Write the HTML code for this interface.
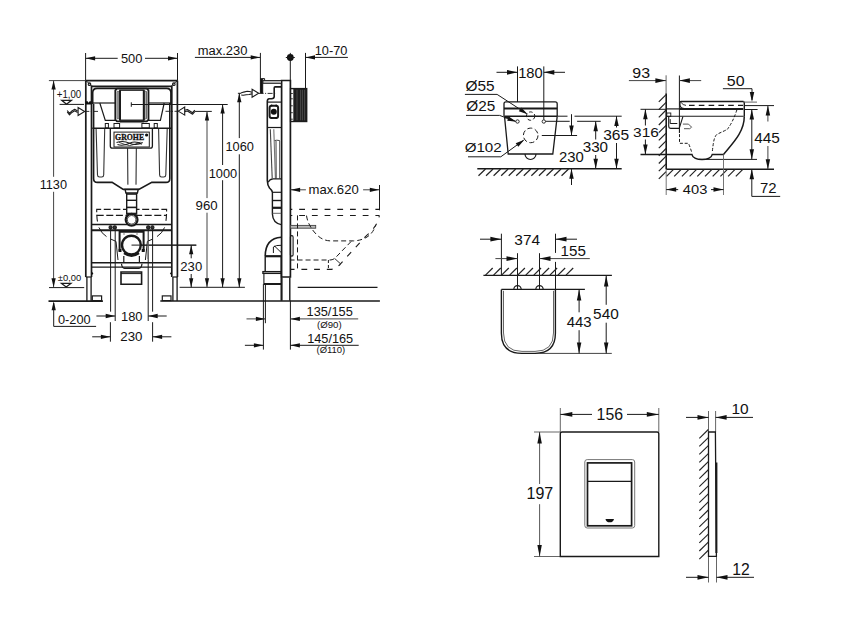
<!DOCTYPE html>
<html><head><meta charset="utf-8">
<style>
html,body{margin:0;padding:0;background:#fff;width:851px;height:630px;overflow:hidden}
svg{display:block}
text{font-family:"Liberation Sans",sans-serif}
</style></head><body>
<svg width="851" height="630" viewBox="0 0 851 630">
<line x1="560.3" y1="408" x2="560.3" y2="432" stroke="#555" stroke-width="0.9" />
<line x1="658.8" y1="408" x2="658.8" y2="432" stroke="#555" stroke-width="0.9" />
<line x1="560.3" y1="414.4" x2="592" y2="414.4" stroke="#1a1a1a" stroke-width="1" />
<line x1="627" y1="414.4" x2="658.8" y2="414.4" stroke="#1a1a1a" stroke-width="1" />
<path d="M560.3,414.4 L572.3,412.05 L572.3,416.75 Z" fill="#111"/>
<path d="M658.8,414.4 L646.8,412.05 L646.8,416.75 Z" fill="#111"/>
<text transform="translate(596.59,419.64) scale(0.983,1)" font-size="16.10" fill="#111" font-weight="normal">156</text>
<line x1="534" y1="432" x2="560" y2="432" stroke="#555" stroke-width="0.9" />
<line x1="534" y1="556.5" x2="560" y2="556.5" stroke="#555" stroke-width="0.9" />
<line x1="539.6" y1="432" x2="539.6" y2="484" stroke="#444" stroke-width="0.9" />
<line x1="539.6" y1="504.2" x2="539.6" y2="556.5" stroke="#444" stroke-width="0.9" />
<path d="M539.6,432 L537.36,443.5 L541.84,443.5 Z" fill="#111"/>
<path d="M539.6,556.5 L537.36,545 L541.84,545 Z" fill="#111"/>
<text transform="translate(526.48,499.45) scale(1.022,1)" font-size="15.68" fill="#111" font-weight="normal">197</text>
<path d="M560.3,556.5 V433.8 Q560.3,432 562.1,432 H657 Q658.8,432 658.8,433.8 V556.5 Z" stroke="#1a1a1a" stroke-width="1.4" fill="none" />
<path d="M584.8,525.5 V462 Q584.8,459.6 587.2,459.6 H632.3 Q634.7,459.6 634.7,462 V525.6 Q634.7,528 632.3,528 H587.2 Q584.8,528 584.8,525.5" stroke="#777" stroke-width="1" fill="none" />
<rect x="587.5" y="462.9" width="44.1" height="62.9" rx="0" stroke="#1a1a1a" stroke-width="1.7" fill="none"/>
<line x1="587.5" y1="481.4" x2="631.6" y2="481.4" stroke="#1a1a1a" stroke-width="1.4" />
<path d="M605.5,518.9 H614 Q613.3,522.3 609.7,522.3 Q606.2,522.3 605.5,518.9 Z" fill="#111"/>
<line x1="708.5" y1="411" x2="708.5" y2="432" stroke="#555" stroke-width="0.9" />
<line x1="715.6" y1="411" x2="715.6" y2="432" stroke="#555" stroke-width="0.9" />
<line x1="708.5" y1="556.5" x2="708.5" y2="582.5" stroke="#555" stroke-width="0.9" />
<line x1="716.5" y1="556.5" x2="716.5" y2="582.5" stroke="#555" stroke-width="0.9" />
<line x1="686" y1="417.4" x2="708.5" y2="417.4" stroke="#1a1a1a" stroke-width="1" />
<line x1="715.6" y1="417.4" x2="753" y2="417.4" stroke="#1a1a1a" stroke-width="1" />
<path d="M708.5,417.4 L697.5,415.05 L697.5,419.75 Z" fill="#111"/>
<path d="M715.6,417.4 L726.6,415.05 L726.6,419.75 Z" fill="#111"/>
<line x1="686" y1="577.3" x2="708.5" y2="577.3" stroke="#1a1a1a" stroke-width="1" />
<line x1="716.5" y1="577.3" x2="754" y2="577.3" stroke="#1a1a1a" stroke-width="1" />
<path d="M708.5,577.3 L697.5,574.95 L697.5,579.65 Z" fill="#111"/>
<path d="M716.5,577.3 L727.5,574.95 L727.5,579.65 Z" fill="#111"/>
<text transform="translate(731.42,414.25) scale(1.022,1)" font-size="15.11" fill="#111" font-weight="normal">10</text>
<text transform="translate(732.3,574.5) scale(0.980,1)" font-size="16.04" fill="#111" font-weight="normal">12</text>
<path d="M708.5,556.3 V432 H715.4 L716.4,556.3 Z" stroke="#1a1a1a" stroke-width="1.3" fill="none" />
<line x1="716.4" y1="462.5" x2="716.4" y2="553" stroke="#1a1a1a" stroke-width="2" />
<line x1="708.3" y1="429.5" x2="699.3" y2="438.3" stroke="#222" stroke-width="1.1" />
<line x1="708.3" y1="437.55" x2="699.3" y2="446.35" stroke="#222" stroke-width="1.1" />
<line x1="708.3" y1="445.6" x2="699.3" y2="454.4" stroke="#222" stroke-width="1.1" />
<line x1="708.3" y1="453.65" x2="699.3" y2="462.45" stroke="#222" stroke-width="1.1" />
<line x1="708.3" y1="461.7" x2="699.3" y2="470.5" stroke="#222" stroke-width="1.1" />
<line x1="708.3" y1="469.75" x2="699.3" y2="478.55" stroke="#222" stroke-width="1.1" />
<line x1="708.3" y1="477.8" x2="699.3" y2="486.6" stroke="#222" stroke-width="1.1" />
<line x1="708.3" y1="485.85" x2="699.3" y2="494.65" stroke="#222" stroke-width="1.1" />
<line x1="708.3" y1="493.9" x2="699.3" y2="502.7" stroke="#222" stroke-width="1.1" />
<line x1="708.3" y1="501.95" x2="699.3" y2="510.75" stroke="#222" stroke-width="1.1" />
<line x1="708.3" y1="510" x2="699.3" y2="518.8" stroke="#222" stroke-width="1.1" />
<line x1="708.3" y1="518.05" x2="699.3" y2="526.85" stroke="#222" stroke-width="1.1" />
<line x1="708.3" y1="526.1" x2="699.3" y2="534.9" stroke="#222" stroke-width="1.1" />
<line x1="708.3" y1="534.15" x2="699.3" y2="542.95" stroke="#222" stroke-width="1.1" />
<line x1="708.3" y1="542.2" x2="699.3" y2="551" stroke="#222" stroke-width="1.1" />
<line x1="708.3" y1="550.25" x2="699.3" y2="559.05" stroke="#222" stroke-width="1.1" />
<line x1="501.4" y1="233.7" x2="501.4" y2="275.4" stroke="#1a1a1a" stroke-width="1" />
<line x1="555.5" y1="233.7" x2="555.5" y2="252.9" stroke="#1a1a1a" stroke-width="1" />
<line x1="480" y1="239.2" x2="501.4" y2="239.2" stroke="#1a1a1a" stroke-width="1" />
<path d="M501.4,239.2 L490.4,236.85 L490.4,241.55 Z" fill="#111"/>
<line x1="555.5" y1="239.2" x2="577" y2="239.2" stroke="#1a1a1a" stroke-width="1" />
<path d="M555.5,239.2 L566.5,236.85 L566.5,241.55 Z" fill="#111"/>
<text transform="translate(514.31,244.66) scale(1.040,1)" font-size="14.83" fill="#111" font-weight="normal">374</text>
<line x1="517.5" y1="253.2" x2="517.5" y2="289.4" stroke="#1a1a1a" stroke-width="1" />
<line x1="539.5" y1="253.2" x2="539.5" y2="289.4" stroke="#1a1a1a" stroke-width="1" />
<line x1="495.4" y1="258.6" x2="517.5" y2="258.6" stroke="#444" stroke-width="1" />
<path d="M517.5,258.6 L506.5,256.25 L506.5,260.95 Z" fill="#111"/>
<line x1="539.5" y1="258.6" x2="589.8" y2="258.6" stroke="#444" stroke-width="1" />
<path d="M539.5,258.6 L550.5,256.25 L550.5,260.95 Z" fill="#111"/>
<text transform="translate(560.55,255.86) scale(1.037,1)" font-size="14.62" fill="#111" font-weight="normal">155</text>
<line x1="555.5" y1="261.9" x2="555.5" y2="289.4" stroke="#1a1a1a" stroke-width="1" />
<line x1="483.4" y1="275.4" x2="611.9" y2="275.4" stroke="#1a1a1a" stroke-width="1.4" />
<line x1="485.5" y1="275.2" x2="492.7" y2="268" stroke="#222" stroke-width="1.2" />
<line x1="493.55" y1="275.2" x2="500.75" y2="268" stroke="#222" stroke-width="1.2" />
<line x1="501.6" y1="275.2" x2="508.8" y2="268" stroke="#222" stroke-width="1.2" />
<line x1="509.65" y1="275.2" x2="516.85" y2="268" stroke="#222" stroke-width="1.2" />
<line x1="517.7" y1="275.2" x2="524.9" y2="268" stroke="#222" stroke-width="1.2" />
<line x1="525.75" y1="275.2" x2="532.95" y2="268" stroke="#222" stroke-width="1.2" />
<line x1="533.8" y1="275.2" x2="541" y2="268" stroke="#222" stroke-width="1.2" />
<line x1="541.85" y1="275.2" x2="549.05" y2="268" stroke="#222" stroke-width="1.2" />
<line x1="549.9" y1="275.2" x2="557.1" y2="268" stroke="#222" stroke-width="1.2" />
<line x1="557.95" y1="275.2" x2="565.15" y2="268" stroke="#222" stroke-width="1.2" />
<line x1="566" y1="275.2" x2="573.2" y2="268" stroke="#222" stroke-width="1.2" />
<line x1="501.4" y1="289.4" x2="584.9" y2="289.4" stroke="#1a1a1a" stroke-width="1.3" />
<path d="M517.5,289.4 m-3.7,0 a3.7,3.7 0 0 1 7.4,0" stroke="#1a1a1a" stroke-width="1.2" fill="none" />
<path d="M539.5,289.4 m-3.7,0 a3.7,3.7 0 0 1 7.4,0" stroke="#1a1a1a" stroke-width="1.2" fill="none" />
<path d="M501.4,289.4 V333.3 Q501.4,353.4 522,353.4 H535 Q555.4,353.4 555.4,333.3 V289.4" stroke="#1a1a1a" stroke-width="1.4" fill="none" />
<path d="M503.5,290.8 V333 Q503.5,351.4 522,351.4 H535 Q553.5,351.4 553.5,333 V290.8" stroke="#555" stroke-width="0.9" fill="none" />
<line x1="539.5" y1="353.4" x2="611.8" y2="353.4" stroke="#444" stroke-width="1" />
<line x1="579.1" y1="289.4" x2="579.1" y2="312.3" stroke="#1a1a1a" stroke-width="1" />
<line x1="579.1" y1="330.2" x2="579.1" y2="353.4" stroke="#1a1a1a" stroke-width="1" />
<path d="M579.1,289.4 L576.86,300.4 L581.34,300.4 Z" fill="#111"/>
<path d="M579.1,353.4 L576.86,342.4 L581.34,342.4 Z" fill="#111"/>
<text transform="translate(566.66,326.66) scale(1.036,1)" font-size="14.41" fill="#111" font-weight="normal">443</text>
<line x1="606.2" y1="275.4" x2="606.2" y2="304.8" stroke="#1a1a1a" stroke-width="1" />
<line x1="606.2" y1="322.7" x2="606.2" y2="353.4" stroke="#1a1a1a" stroke-width="1" />
<path d="M606.2,275.4 L603.96,286.4 L608.44,286.4 Z" fill="#111"/>
<path d="M606.2,353.4 L603.96,342.4 L608.44,342.4 Z" fill="#111"/>
<text transform="translate(593.08,319.46) scale(1.039,1)" font-size="14.83" fill="#111" font-weight="normal">540</text>
<line x1="517.5" y1="66.4" x2="517.5" y2="102" stroke="#1a1a1a" stroke-width="1" />
<line x1="543.8" y1="66.4" x2="543.8" y2="119.6" stroke="#1a1a1a" stroke-width="1" />
<line x1="496.5" y1="72.3" x2="517.5" y2="72.3" stroke="#1a1a1a" stroke-width="1" />
<path d="M517.5,72.3 L507,69.95 L507,74.65 Z" fill="#111"/>
<line x1="543.8" y1="72.3" x2="565" y2="72.3" stroke="#1a1a1a" stroke-width="1" />
<path d="M543.8,72.3 L554.3,69.95 L554.3,74.65 Z" fill="#111"/>
<text transform="translate(518.18,77.76) scale(0.994,1)" font-size="14.83" fill="#111" font-weight="normal">180</text>
<text transform="translate(465.57,90.53) scale(1.087,1)" font-size="14.16" fill="#111" font-weight="normal">Ø55</text>
<text transform="translate(466.27,110.94) scale(1.104,1)" font-size="13.89" fill="#111" font-weight="normal">Ø25</text>
<text transform="translate(464.67,152.35) scale(1.136,1)" font-size="13.35" fill="#111" font-weight="normal">Ø102</text>
<path d="M464.9,94.4 H497.1 L526.5,113.5" stroke="#1a1a1a" stroke-width="1" fill="none" />
<path d="M527.6,114.3 L518.84,111.26 L521.29,107.51 Z" fill="#111"/>
<path d="M466,115.4 H499.6 L515.5,121.3" stroke="#1a1a1a" stroke-width="1" fill="none" />
<path d="M516.4,121.7 L507.19,120.64 L508.76,116.44 Z" fill="#111"/>
<path d="M468,156.8 H500.8 L523.5,140.3" stroke="#1a1a1a" stroke-width="1" fill="none" />
<path d="M524.3,139.7 L518.34,146.81 L515.7,143.18 Z" fill="#111"/>
<path d="M504,116.3 V103.8 Q504,101.8 506,101.8 H555.2 Q557.2,101.8 557.2,103.8 V116.3" stroke="#1a1a1a" stroke-width="1.3" fill="none" />
<line x1="504" y1="108.5" x2="557.2" y2="108.5" stroke="#1a1a1a" stroke-width="2" />
<line x1="504.5" y1="116.3" x2="557.5" y2="116.3" stroke="#1a1a1a" stroke-width="1.6" />
<line x1="557.5" y1="116.2" x2="621.7" y2="116.2" stroke="#1a1a1a" stroke-width="1" />
<line x1="504.5" y1="117.6" x2="510" y2="117.6" stroke="#1a1a1a" stroke-width="1.6" />
<path d="M504.5,116.3 L508.2,154 H552.8 L557.2,116.3" stroke="#1a1a1a" stroke-width="1.3" fill="none" />
<path d="M525,154 A5.5,5.5 0 0 0 536,154" stroke="#1a1a1a" stroke-width="1.2" fill="none" />
<circle cx="517.5" cy="121.5" r="1.7" stroke="#1a1a1a" stroke-width="0.9" fill="none" />
<circle cx="543.8" cy="121.5" r="1.7" stroke="#1a1a1a" stroke-width="0.9" fill="none" />
<circle cx="530.6" cy="116.1" r="4.2" stroke="#1a1a1a" stroke-width="1" fill="none" stroke-dasharray="3.6,2.3"/>
<circle cx="530.7" cy="135.4" r="7.3" stroke="#1a1a1a" stroke-width="1" fill="none" stroke-dasharray="5,2.7"/>
<rect x="567.5" y="114" width="7" height="4" fill="#fff"/>
<line x1="545.6" y1="121.3" x2="569.7" y2="121.3" stroke="#1a1a1a" stroke-width="1" />
<line x1="577.1" y1="121.3" x2="600.7" y2="121.3" stroke="#1a1a1a" stroke-width="1" />
<line x1="541.8" y1="135.5" x2="577.1" y2="135.5" stroke="#1a1a1a" stroke-width="1" />
<line x1="571.5" y1="114.2" x2="571.5" y2="135.5" stroke="#1a1a1a" stroke-width="1" />
<path d="M571.5,135.5 L569.26,125.5 L573.74,125.5 Z" fill="#111"/>
<line x1="571.5" y1="168.8" x2="571.5" y2="185" stroke="#1a1a1a" stroke-width="1" />
<path d="M571.5,168.8 L569.26,178.8 L573.74,178.8 Z" fill="#111"/>
<text transform="translate(559.05,162.36) scale(1.064,1)" font-size="13.98" fill="#111" font-weight="normal">230</text>
<line x1="595.7" y1="121.3" x2="595.7" y2="139.5" stroke="#1a1a1a" stroke-width="1" />
<line x1="595.7" y1="155" x2="595.7" y2="168.8" stroke="#1a1a1a" stroke-width="1" />
<path d="M595.7,121.3 L593.46,131.3 L597.94,131.3 Z" fill="#111"/>
<path d="M595.7,168.8 L593.46,158.8 L597.94,158.8 Z" fill="#111"/>
<text transform="translate(582.72,152.46) scale(1.025,1)" font-size="14.83" fill="#111" font-weight="normal">330</text>
<line x1="616.5" y1="116.1" x2="616.5" y2="127.5" stroke="#1a1a1a" stroke-width="1" />
<line x1="616.5" y1="143" x2="616.5" y2="168.8" stroke="#1a1a1a" stroke-width="1" />
<path d="M616.5,116.1 L614.26,126.1 L618.74,126.1 Z" fill="#111"/>
<path d="M616.5,168.8 L614.26,158.8 L618.74,158.8 Z" fill="#111"/>
<text transform="translate(603.21,140.06) scale(1.112,1)" font-size="13.98" fill="#111" font-weight="normal">365</text>
<line x1="477.3" y1="168.8" x2="621.7" y2="168.8" stroke="#1a1a1a" stroke-width="1.4" />
<line x1="485.5" y1="169" x2="478.5" y2="175.8" stroke="#222" stroke-width="1.2" />
<line x1="493.05" y1="169" x2="486.05" y2="175.8" stroke="#222" stroke-width="1.2" />
<line x1="500.6" y1="169" x2="493.6" y2="175.8" stroke="#222" stroke-width="1.2" />
<line x1="508.15" y1="169" x2="501.15" y2="175.8" stroke="#222" stroke-width="1.2" />
<line x1="515.7" y1="169" x2="508.7" y2="175.8" stroke="#222" stroke-width="1.2" />
<line x1="523.25" y1="169" x2="516.25" y2="175.8" stroke="#222" stroke-width="1.2" />
<line x1="530.8" y1="169" x2="523.8" y2="175.8" stroke="#222" stroke-width="1.2" />
<line x1="538.35" y1="169" x2="531.35" y2="175.8" stroke="#222" stroke-width="1.2" />
<line x1="545.9" y1="169" x2="538.9" y2="175.8" stroke="#222" stroke-width="1.2" />
<line x1="553.45" y1="169" x2="546.45" y2="175.8" stroke="#222" stroke-width="1.2" />
<line x1="561" y1="169" x2="554" y2="175.8" stroke="#222" stroke-width="1.2" />
<line x1="568.55" y1="169" x2="561.55" y2="175.8" stroke="#222" stroke-width="1.2" />
<line x1="666.1" y1="75.3" x2="666.1" y2="94" stroke="#555" stroke-width="0.9" />
<line x1="679.4" y1="75.5" x2="679.4" y2="133" stroke="#1a1a1a" stroke-width="1" />
<line x1="628.9" y1="80.6" x2="666.1" y2="80.6" stroke="#444" stroke-width="1" />
<path d="M665.9,80.6 L655.4,78.25 L655.4,82.95 Z" fill="#111"/>
<line x1="679.4" y1="80.6" x2="701.2" y2="80.6" stroke="#444" stroke-width="1" />
<path d="M679.4,80.6 L689.9,78.25 L689.9,82.95 Z" fill="#111"/>
<text transform="translate(632.35,78.15) scale(1.066,1)" font-size="14.97" fill="#111" font-weight="normal">93</text>
<line x1="666.2" y1="93.5" x2="666.2" y2="169.3" stroke="#1a1a1a" stroke-width="1.6" />
<line x1="666.1" y1="94.6" x2="658.8" y2="101.9" stroke="#222" stroke-width="1.2" />
<line x1="666.1" y1="102.3" x2="658.8" y2="109.6" stroke="#222" stroke-width="1.2" />
<line x1="666.1" y1="110" x2="658.8" y2="117.3" stroke="#222" stroke-width="1.2" />
<line x1="666.1" y1="117.7" x2="658.8" y2="125" stroke="#222" stroke-width="1.2" />
<line x1="666.1" y1="125.4" x2="658.8" y2="132.7" stroke="#222" stroke-width="1.2" />
<line x1="666.1" y1="133.1" x2="658.8" y2="140.4" stroke="#222" stroke-width="1.2" />
<line x1="666.1" y1="140.8" x2="658.8" y2="148.1" stroke="#222" stroke-width="1.2" />
<line x1="666.1" y1="148.5" x2="658.8" y2="155.8" stroke="#222" stroke-width="1.2" />
<line x1="666.1" y1="156.2" x2="658.8" y2="163.5" stroke="#222" stroke-width="1.2" />
<line x1="666.1" y1="163.9" x2="658.8" y2="171.2" stroke="#222" stroke-width="1.2" />
<line x1="666.1" y1="171.6" x2="658.8" y2="178.9" stroke="#222" stroke-width="1.2" />
<line x1="666.2" y1="169.3" x2="774" y2="169.3" stroke="#1a1a1a" stroke-width="1.4" />
<line x1="673.5" y1="169.4" x2="666.5" y2="176.4" stroke="#222" stroke-width="1.2" />
<line x1="681.2" y1="169.4" x2="674.2" y2="176.4" stroke="#222" stroke-width="1.2" />
<line x1="688.9" y1="169.4" x2="681.9" y2="176.4" stroke="#222" stroke-width="1.2" />
<line x1="696.6" y1="169.4" x2="689.6" y2="176.4" stroke="#222" stroke-width="1.2" />
<line x1="704.3" y1="169.4" x2="697.3" y2="176.4" stroke="#222" stroke-width="1.2" />
<line x1="712" y1="169.4" x2="705" y2="176.4" stroke="#222" stroke-width="1.2" />
<line x1="719.7" y1="169.4" x2="712.7" y2="176.4" stroke="#222" stroke-width="1.2" />
<line x1="727.4" y1="169.4" x2="720.4" y2="176.4" stroke="#222" stroke-width="1.2" />
<line x1="735.1" y1="169.4" x2="728.1" y2="176.4" stroke="#222" stroke-width="1.2" />
<line x1="742.8" y1="169.4" x2="735.8" y2="176.4" stroke="#222" stroke-width="1.2" />
<path d="M743.3,101.5 H681 Q679.9,101.5 679.9,102.8 V105 Q680.3,108.5 684.5,108.7" stroke="#1a1a1a" stroke-width="1.3" fill="none" />
<path d="M680.8,102.2 Q683,105.3 686,105.4" stroke="#1a1a1a" stroke-width="0.9" fill="none" />
<line x1="689" y1="105.4" x2="743" y2="105.4" stroke="#1a1a1a" stroke-width="1.1" stroke-dasharray="5.6,4.2"/>
<line x1="666.2" y1="108.9" x2="679.5" y2="108.9" stroke="#1a1a1a" stroke-width="1.2" />
<line x1="679.5" y1="108.9" x2="743.3" y2="108.9" stroke="#1a1a1a" stroke-width="2" />
<path d="M743.3,101.5 Q744.3,101.8 744.3,103 V116.3" stroke="#1a1a1a" stroke-width="1.4" fill="none" />
<line x1="640.5" y1="109.3" x2="666.2" y2="109.3" stroke="#1a1a1a" stroke-width="1" />
<line x1="666.2" y1="116.3" x2="743.6" y2="116.3" stroke="#1a1a1a" stroke-width="1.1" />
<text transform="translate(726.86,86.06) scale(1.087,1)" font-size="14.69" fill="#111" font-weight="normal">50</text>
<path d="M722.9,88.7 H752 V100" stroke="#1a1a1a" stroke-width="1" fill="none" />
<path d="M752,102.1 L749.76,92.1 L754.24,92.1 Z" fill="#111"/>
<line x1="744.5" y1="102.1" x2="757" y2="102.1" stroke="#666" stroke-width="1" />
<line x1="744.5" y1="105.6" x2="774" y2="105.6" stroke="#1a1a1a" stroke-width="1" />
<line x1="744.5" y1="109.5" x2="757.6" y2="109.5" stroke="#1a1a1a" stroke-width="1" />
<line x1="751.8" y1="109.5" x2="751.8" y2="159.3" stroke="#1a1a1a" stroke-width="1" />
<path d="M751.8,109.5 L749.56,119.5 L754.04,119.5 Z" fill="#111"/>
<path d="M751.8,159.3 L749.56,149.3 L754.04,149.3 Z" fill="#111"/>
<line x1="767.9" y1="105.6" x2="767.9" y2="121.5" stroke="#444" stroke-width="1" />
<line x1="767.9" y1="146" x2="767.9" y2="169.2" stroke="#444" stroke-width="1" />
<path d="M767.9,105.6 L765.66,115.6 L770.14,115.6 Z" fill="#111"/>
<path d="M767.9,169.2 L765.66,159.2 L770.14,159.2 Z" fill="#111"/>
<rect x="753.5" y="131" width="27" height="13" fill="#fff"/>
<text transform="translate(754.15,142.65) scale(1.024,1)" font-size="15.05" fill="#111" font-weight="normal">445</text>
<line x1="645.4" y1="109.3" x2="645.4" y2="125.5" stroke="#1a1a1a" stroke-width="1" />
<line x1="645.4" y1="139.5" x2="645.4" y2="154.4" stroke="#1a1a1a" stroke-width="1" />
<path d="M645.4,109.3 L643.16,119.3 L647.64,119.3 Z" fill="#111"/>
<path d="M645.4,154.4 L643.16,144.4 L647.64,144.4 Z" fill="#111"/>
<text transform="translate(633.11,137.17) scale(1.139,1)" font-size="13.56" fill="#111" font-weight="normal">316</text>
<path d="M640.5,154.4 H691.9 C693,161.2 711,161.2 712.3,154.4 H723.5 C733,143 744.3,132 744.3,116.3" stroke="#1a1a1a" stroke-width="1.5" fill="none" />
<line x1="699" y1="159.4" x2="757" y2="159.4" stroke="#1a1a1a" stroke-width="1" />
<path d="M679.5,129.3 V143.3 H688.5 Q690.5,148 691.9,153" stroke="#1a1a1a" stroke-width="1" fill="none" stroke-dasharray="3,1.8"/>
<path d="M712.4,151 Q713.5,140 715,137.2 Q716,134.5 718,133.8 Q724,131 727.2,129.5 Q733,122 737,109.5" stroke="#1a1a1a" stroke-width="1" fill="none" stroke-dasharray="3,1.8"/>
<line x1="666.2" y1="169.3" x2="666.2" y2="195" stroke="#666" stroke-width="0.9" />
<line x1="723.5" y1="154.4" x2="723.5" y2="195" stroke="#666" stroke-width="0.9" />
<line x1="666.2" y1="189.6" x2="678.2" y2="189.6" stroke="#1a1a1a" stroke-width="1" />
<path d="M666.2,189.6 L676.2,187.36 L676.2,191.84 Z" fill="#111"/>
<line x1="711" y1="189.6" x2="723.5" y2="189.6" stroke="#1a1a1a" stroke-width="1" />
<path d="M723.5,189.6 L713.5,187.36 L713.5,191.84 Z" fill="#111"/>
<text transform="translate(682.86,194.17) scale(1.071,1)" font-size="13.70" fill="#111" font-weight="normal">403</text>
<path d="M751.8,169.2 V196.4 H780.2" stroke="#1a1a1a" stroke-width="1" fill="none" />
<path d="M751.8,169.2 L749.56,179.2 L754.04,179.2 Z" fill="#111"/>
<text transform="translate(759.93,193.3) scale(1.033,1)" font-size="14.46" fill="#111" font-weight="normal">72</text>
<rect x="666.8" y="113" width="4" height="3.4" rx="0" stroke="#1a1a1a" stroke-width="0.9" fill="none"/>
<path d="M668.7,116.6 V126 Q668.7,128.4 671,128.4 H679.2 L682.9,116.7" stroke="#1a1a1a" stroke-width="1.1" fill="none" />
<path d="M670.2,119.1 V123.5 H677.3" stroke="#1a1a1a" stroke-width="1" fill="none" />
<path d="M682.9,124.1 H688.5 L691.6,127.2 L689.7,128.7 H684" stroke="#444" stroke-width="0.9" fill="none" />
<line x1="85.6" y1="53" x2="85.6" y2="80.6" stroke="#1a1a1a" stroke-width="1" />
<line x1="177.5" y1="53" x2="177.5" y2="80.6" stroke="#1a1a1a" stroke-width="1" />
<line x1="85.6" y1="58.3" x2="117.7" y2="58.3" stroke="#1a1a1a" stroke-width="1" />
<line x1="145" y1="58.3" x2="177.5" y2="58.3" stroke="#1a1a1a" stroke-width="1" />
<path d="M85.6,58.3 L95.1,56.17 L95.1,60.43 Z" fill="#111"/>
<path d="M177.5,58.3 L168,56.17 L168,60.43 Z" fill="#111"/>
<text transform="translate(120.88,62.78) scale(1.015,1)" font-size="12.71" fill="#111" font-weight="normal">500</text>
<line x1="48.9" y1="80.6" x2="85.6" y2="80.6" stroke="#444" stroke-width="1" />
<line x1="53.6" y1="80.6" x2="53.6" y2="176.8" stroke="#444" stroke-width="1" />
<line x1="53.6" y1="191.8" x2="53.6" y2="287.3" stroke="#444" stroke-width="1" />
<path d="M53.6,80.6 L51.47,89.6 L55.73,89.6 Z" fill="#111"/>
<path d="M53.6,287.3 L51.47,278.3 L55.73,278.3 Z" fill="#111"/>
<text transform="translate(39.63,188.77) scale(0.971,1)" font-size="13.14" fill="#111" font-weight="normal">1130</text>
<text transform="translate(56.73,98) scale(0.970,1)" font-size="10.00" fill="#111">+1,00</text>
<path d="M61.8,100.3 H71.4 L66.5,104.2 Z" stroke="#1a1a1a" stroke-width="1.3" fill="none" />
<line x1="59.6" y1="104.4" x2="84" y2="104.4" stroke="#1a1a1a" stroke-width="1" />
<text transform="translate(57.8,280.8) scale(0.997,1)" font-size="9.43" fill="#111">±0,00</text>
<path d="M61.5,283.4 H70.9 L66.2,287 Z" stroke="#1a1a1a" stroke-width="1.3" fill="none" />
<line x1="49" y1="287.6" x2="84.2" y2="287.6" stroke="#1a1a1a" stroke-width="1" />
<line x1="48.5" y1="301.1" x2="102.9" y2="301.1" stroke="#1a1a1a" stroke-width="1.6" />
<path d="M53.7,303 V326.4 H96.1" stroke="#1a1a1a" stroke-width="1" fill="none" />
<path d="M53.7,301.2 L51.57,310.2 L55.83,310.2 Z" fill="#111"/>
<text transform="translate(58,324.08) scale(1.017,1)" font-size="12.57" fill="#111" font-weight="normal">0-200</text>
<line x1="110.6" y1="226" x2="110.6" y2="311.7" stroke="#1a1a1a" stroke-width="1" />
<line x1="110.4" y1="322.2" x2="110.4" y2="341.7" stroke="#1a1a1a" stroke-width="1" />
<line x1="115.2" y1="226" x2="115.2" y2="321" stroke="#1a1a1a" stroke-width="1" />
<line x1="148.2" y1="226" x2="148.2" y2="321" stroke="#1a1a1a" stroke-width="1" />
<line x1="152.6" y1="226" x2="152.6" y2="311.7" stroke="#1a1a1a" stroke-width="1" />
<line x1="152.6" y1="322.2" x2="152.6" y2="341.7" stroke="#1a1a1a" stroke-width="1" />
<line x1="96.4" y1="316" x2="115.2" y2="316" stroke="#1a1a1a" stroke-width="1" />
<path d="M115.2,316 L105.7,313.87 L105.7,318.13 Z" fill="#111"/>
<line x1="148.2" y1="316" x2="166.7" y2="316" stroke="#1a1a1a" stroke-width="1" />
<path d="M148.2,316 L157.7,313.87 L157.7,318.13 Z" fill="#111"/>
<text transform="translate(121.02,320.88) scale(1.024,1)" font-size="12.57" fill="#111" font-weight="normal">180</text>
<line x1="92.2" y1="336.8" x2="110.4" y2="336.8" stroke="#1a1a1a" stroke-width="1" />
<path d="M110.4,336.8 L100.9,334.67 L100.9,338.93 Z" fill="#111"/>
<line x1="152.6" y1="336.8" x2="171.4" y2="336.8" stroke="#1a1a1a" stroke-width="1" />
<path d="M152.6,336.8 L162.1,334.67 L162.1,338.93 Z" fill="#111"/>
<text transform="translate(120.33,341.18) scale(1.095,1)" font-size="12.15" fill="#111" font-weight="normal">230</text>
<line x1="131.7" y1="245.2" x2="196.3" y2="245.2" stroke="#1a1a1a" stroke-width="1" />
<line x1="191.2" y1="245.2" x2="191.2" y2="258.3" stroke="#1a1a1a" stroke-width="1" />
<line x1="191.2" y1="274" x2="191.2" y2="287.3" stroke="#1a1a1a" stroke-width="1" />
<path d="M191.2,245.2 L189.07,254.2 L193.33,254.2 Z" fill="#111"/>
<path d="M191.2,287.3 L189.07,278.3 L193.33,278.3 Z" fill="#111"/>
<text transform="translate(180.34,271.17) scale(1.009,1)" font-size="12.99" fill="#111" font-weight="normal">230</text>
<line x1="179.6" y1="287.3" x2="244.9" y2="287.3" stroke="#1a1a1a" stroke-width="1" />
<line x1="194.7" y1="111.4" x2="211.8" y2="111.4" stroke="#1a1a1a" stroke-width="1" />
<line x1="165.5" y1="111.3" x2="178" y2="111.3" stroke="#1a1a1a" stroke-width="0.9" stroke-dasharray="5,1.5,1,1.5"/>
<line x1="207" y1="111.4" x2="207" y2="198.1" stroke="#444" stroke-width="1" />
<line x1="207" y1="212.7" x2="207" y2="287.3" stroke="#444" stroke-width="1" />
<path d="M207,111.4 L204.87,120.4 L209.13,120.4 Z" fill="#111"/>
<path d="M207,287.3 L204.87,278.3 L209.13,278.3 Z" fill="#111"/>
<text transform="translate(195.58,210.37) scale(1.021,1)" font-size="12.99" fill="#111" font-weight="normal">960</text>
<line x1="131.3" y1="104.5" x2="227.7" y2="104.5" stroke="#1a1a1a" stroke-width="1" />
<line x1="222.6" y1="104.5" x2="222.6" y2="165" stroke="#1a1a1a" stroke-width="1" />
<line x1="222.6" y1="180.2" x2="222.6" y2="287.3" stroke="#1a1a1a" stroke-width="1" />
<path d="M222.6,104.5 L220.47,113.5 L224.73,113.5 Z" fill="#111"/>
<path d="M222.6,287.3 L220.47,278.3 L224.73,278.3 Z" fill="#111"/>
<text transform="translate(208.72,177.88) scale(1.054,1)" font-size="12.15" fill="#111" font-weight="normal">1000</text>
<line x1="239.3" y1="93.3" x2="239.3" y2="138.1" stroke="#1a1a1a" stroke-width="1" />
<line x1="239.3" y1="154.3" x2="239.3" y2="287.3" stroke="#1a1a1a" stroke-width="1" />
<path d="M239.3,93.3 L237.17,102.3 L241.43,102.3 Z" fill="#111"/>
<path d="M239.3,287.3 L237.17,278.3 L241.43,278.3 Z" fill="#111"/>
<text transform="translate(225.43,150.87) scale(0.996,1)" font-size="12.85" fill="#111" font-weight="normal">1060</text>
<line x1="160.3" y1="301" x2="379.9" y2="301" stroke="#1a1a1a" stroke-width="1.6" />
<line x1="85.7" y1="80.6" x2="177.5" y2="80.6" stroke="#1a1a1a" stroke-width="1.8" />
<line x1="85.8" y1="80.6" x2="85.8" y2="277" stroke="#1a1a1a" stroke-width="1.7" />
<line x1="91.5" y1="85.5" x2="91.5" y2="277" stroke="#1a1a1a" stroke-width="1.7" />
<line x1="177.4" y1="80.6" x2="177.4" y2="277" stroke="#1a1a1a" stroke-width="1.7" />
<line x1="171.8" y1="85.5" x2="171.8" y2="277" stroke="#1a1a1a" stroke-width="1.7" />
<line x1="91.5" y1="86.3" x2="171.8" y2="86.3" stroke="#1a1a1a" stroke-width="1.7" />
<line x1="85.8" y1="80.6" x2="91.5" y2="85.5" stroke="#1a1a1a" stroke-width="0.9" />
<line x1="177.4" y1="80.6" x2="171.8" y2="85.5" stroke="#1a1a1a" stroke-width="0.9" />
<circle cx="89.5" cy="84.2" r="1.3" stroke="#1a1a1a" stroke-width="1.1" fill="none" />
<circle cx="173.8" cy="84.2" r="1.3" stroke="#1a1a1a" stroke-width="1.1" fill="none" />
<path d="M86.9,277 V301 M91.1,277 V301" stroke="#1a1a1a" stroke-width="1.3" fill="none" />
<line x1="85.8" y1="277" x2="91.5" y2="277" stroke="#1a1a1a" stroke-width="1.2" />
<line x1="172.8" y1="277" x2="177.4" y2="277" stroke="#1a1a1a" stroke-width="1.2" />
<path d="M172.9,277 V301 M177.1,277 V301" stroke="#1a1a1a" stroke-width="1.3" fill="none" />
<rect x="92.3" y="295.9" width="9.3" height="4.7" rx="0" stroke="#1a1a1a" stroke-width="1.2" fill="none"/>
<rect x="162.3" y="295.9" width="8.7" height="4.7" rx="0" stroke="#1a1a1a" stroke-width="1.2" fill="none"/>
<path d="M91.5,271.3 L93.4,273.4 L91.5,275.6 Z" fill="#111"/>
<path d="M171.8,271.3 L169.9,273.4 L171.8,275.6 Z" fill="#111"/>
<line x1="91.5" y1="224.5" x2="171.8" y2="224.5" stroke="#1a1a1a" stroke-width="1.6" />
<line x1="91.5" y1="230.3" x2="171.8" y2="230.3" stroke="#1a1a1a" stroke-width="1.9" />
<line x1="91.5" y1="262.7" x2="171.8" y2="262.7" stroke="#1a1a1a" stroke-width="1.5" />
<line x1="91.5" y1="267.2" x2="171.8" y2="267.2" stroke="#1a1a1a" stroke-width="1.3" />
<circle cx="110.6" cy="227.4" r="1.6" stroke="#1a1a1a" stroke-width="1.1" fill="#333" />
<circle cx="114.8" cy="227.4" r="1.6" stroke="#1a1a1a" stroke-width="1.1" fill="#333" />
<circle cx="148.2" cy="227.4" r="1.6" stroke="#1a1a1a" stroke-width="1.1" fill="#333" />
<circle cx="152.4" cy="227.4" r="1.6" stroke="#1a1a1a" stroke-width="1.1" fill="#333" />
<path d="M92.7,104 V92.8 Q92.7,88.4 97.1,88.4 H166.6 Q170.9,88.4 170.9,92.7 V104" stroke="#1a1a1a" stroke-width="1.6" fill="none" />
<path d="M86,101.2 L87.6,101.2 L88.6,102.8 L89.6,101.2 L91.2,101.2 V104.6 H86 Z" fill="#111"/>
<line x1="92.3" y1="103" x2="115.3" y2="103" stroke="#1a1a1a" stroke-width="1.2" />
<line x1="148.5" y1="103" x2="171.4" y2="103" stroke="#1a1a1a" stroke-width="1.2" />
<path d="M99.8,103 L105.3,120.4 H160.4 L164.2,103" stroke="#1a1a1a" stroke-width="1.2" fill="none" />
<path d="M117,88.7 H146.8 L148.5,90.4 V119.6 L146.8,121.3 H117 L115.3,119.6 V90.4 Z" stroke="#1a1a1a" stroke-width="1.8" fill="#fff" />
<rect x="120" y="90.2" width="23.8" height="30" rx="0" stroke="#1a1a1a" stroke-width="1.3" fill="none"/>
<line x1="120" y1="90.2" x2="120" y2="120.2" stroke="#1a1a1a" stroke-width="2" />
<line x1="143.8" y1="90.2" x2="143.8" y2="120.2" stroke="#1a1a1a" stroke-width="2" />
<rect x="117.2" y="91.2" width="1.6" height="27.8" rx="0.8" stroke="#333" stroke-width="0.8" fill="none"/>
<rect x="145" y="91.2" width="1.6" height="27.8" rx="0.8" stroke="#333" stroke-width="0.8" fill="none"/>
<line x1="131.3" y1="102.3" x2="131.3" y2="106.8" stroke="#1a1a1a" stroke-width="1" />
<line x1="131.3" y1="104.5" x2="149.5" y2="104.5" stroke="#1a1a1a" stroke-width="1" />
<line x1="120" y1="122.6" x2="143.8" y2="122.6" stroke="#666" stroke-width="0.8" />
<path d="M84.6,111.5 L78.1,107.5 L78.1,115.5 Z" stroke="#1a1a1a" stroke-width="1.1" fill="none" />
<path d="M77.6,110.9 L74.7,109.3 L71.9,110.9 L69.5,113.4 L67.2,110.5" stroke="#1a1a1a" stroke-width="1.1" fill="none" stroke-linejoin="round"/>
<path d="M77.6,112.4 L74.7,110.8 L71.9,112.4 L69.5,114.9 L67.2,112" stroke="#1a1a1a" stroke-width="1.1" fill="none" stroke-linejoin="round"/>
<path d="M178.2,111.1 L184.7,107.1 L184.7,115.1 Z" stroke="#1a1a1a" stroke-width="1.1" fill="none" />
<path d="M184.7,110.3 L187.4,109.5 L192.6,112.7 L194.8,110.2" stroke="#1a1a1a" stroke-width="1.1" fill="none" stroke-linejoin="round"/>
<path d="M184.7,111.8 L187.4,111 L192.6,114.2 L194.8,111.7" stroke="#1a1a1a" stroke-width="1.1" fill="none" stroke-linejoin="round"/>
<line x1="84.3" y1="111.4" x2="98" y2="111.4" stroke="#1a1a1a" stroke-width="0.9" stroke-dasharray="5,1.5,1,1.5"/>
<rect x="105.3" y="123.5" width="3.1" height="4.4" rx="0" stroke="#1a1a1a" stroke-width="1" fill="none"/>
<rect x="114" y="123.5" width="5.6" height="4.4" rx="0" stroke="#1a1a1a" stroke-width="1" fill="none"/>
<rect x="141.9" y="123.5" width="7.4" height="4.4" rx="0" stroke="#1a1a1a" stroke-width="1" fill="none"/>
<rect x="154.2" y="123.5" width="3.1" height="4.4" rx="0" stroke="#1a1a1a" stroke-width="1" fill="none"/>
<line x1="92.3" y1="128.2" x2="171.4" y2="128.2" stroke="#1a1a1a" stroke-width="1.6" />
<path d="M93.6,104 V178.4 Q93.6,182.4 97.5,182.4 H112.1 L123.3,189.4 H138.8 L151.8,182.4 H166 Q169.8,182.4 169.8,178.4 V103" stroke="#1a1a1a" stroke-width="1.6" fill="none" />
<path d="M125.1,189.5 H138.2 L137.4,193.1 H125.9 Z" stroke="#1a1a1a" stroke-width="1.4" fill="#fff" />
<path d="M96.1,129 L97.5,175 Q97.6,177 99.5,177 H101.8 Q103.6,177 103.7,175 L104.7,129" stroke="#333" stroke-width="1.1" fill="none" />
<path d="M167.2,129 L165.8,175 Q165.7,177 163.8,177 H161.5 Q159.7,177 159.6,175 L158.6,129" stroke="#333" stroke-width="1.1" fill="none" />
<line x1="127.6" y1="148.2" x2="127.9" y2="184.7" stroke="#1a1a1a" stroke-width="1" />
<line x1="136.3" y1="148.2" x2="136" y2="184.7" stroke="#1a1a1a" stroke-width="1" />
<path d="M110.3,128.2 V146 Q110.3,148.2 112.5,148.2 H150.2 Q152.4,148.2 152.4,146 V128.2" stroke="#1a1a1a" stroke-width="1.3" fill="none" />
<rect x="114" y="132.1" width="35.3" height="14.9" rx="0" stroke="#1a1a1a" stroke-width="1" fill="none"/>
<text x="115.1" y="139.6" style="font-family:'Liberation Serif',serif;font-weight:bold" font-size="7.6" textLength="29" lengthAdjust="spacingAndGlyphs" fill="#111" stroke="#111" stroke-width="0.3">GROHE</text>
<circle cx="146.6" cy="135" r="1.6" stroke="#1a1a1a" stroke-width="0" fill="#111" />
<path d="M116.5,142.6 Q123,140.2 129.6,143.2 Q136,146 142.7,142.6" stroke="#1a1a1a" stroke-width="1.1" fill="none" />
<path d="M117.5,144.6 Q123,146.4 129.6,143.2 Q136,140.4 141.7,144.4" stroke="#1a1a1a" stroke-width="1.1" fill="none" />
<path d="M119,142.4 Q125,144.8 129.6,145.6 Q134,144.8 140.5,142.2" stroke="#1a1a1a" stroke-width="0.8" fill="none" />
<path d="M97.5,221.5 Q96.7,218 96.7,209.4 H166.6 Q166.6,218 165.8,221.5" stroke="#1a1a1a" stroke-width="1.1" fill="none" stroke-dasharray="7,2.6"/>
<line x1="96.7" y1="215.4" x2="166.6" y2="215.4" stroke="#1a1a1a" stroke-width="1.1" stroke-dasharray="7,2.6"/>
<rect x="126.7" y="193.2" width="9.9" height="20.8" rx="0" stroke="#1a1a1a" stroke-width="1.4" fill="#fff"/>
<line x1="126.7" y1="194.3" x2="136.6" y2="194.3" stroke="#1a1a1a" stroke-width="1" />
<line x1="126.7" y1="200.3" x2="136.6" y2="200.3" stroke="#1a1a1a" stroke-width="1.4" />
<line x1="126.7" y1="207.4" x2="136.6" y2="207.4" stroke="#1a1a1a" stroke-width="1.6" />
<line x1="126.7" y1="213.3" x2="136.6" y2="213.3" stroke="#1a1a1a" stroke-width="1.2" />
<circle cx="131.6" cy="219.8" r="5.9" stroke="#1a1a1a" stroke-width="2.2" fill="#fff" />
<circle cx="131.6" cy="219.8" r="4.3" stroke="#444" stroke-width="1" fill="none" />
<path d="M98.9,227.4 Q101.5,233.5 106.5,236.6" stroke="#1a1a1a" stroke-width="1" fill="none" />
<path d="M164.6,227.4 Q162,233.5 157,236.6" stroke="#1a1a1a" stroke-width="1" fill="none" />
<path d="M119.6,251.5 V231.7 H143.6 V251.5" stroke="#1a1a1a" stroke-width="2" fill="none" />
<path d="M118.6,249 H121.5 V252 H118.6 Z" fill="#111"/>
<path d="M141.7,249 H144.6 V252 H141.7 Z" fill="#111"/>
<line x1="124" y1="232.5" x2="124" y2="235" stroke="#666" stroke-width="0.8" />
<line x1="137" y1="232.5" x2="137" y2="235" stroke="#666" stroke-width="0.8" />
<circle cx="131.4" cy="245.1" r="9.4" stroke="#1a1a1a" stroke-width="2.4" fill="#fff" />
<line x1="131.5" y1="245.1" x2="196.3" y2="245.1" stroke="#1a1a1a" stroke-width="1" />
<path d="M124,253.2 Q131.5,258.6 139,253.2" stroke="#1a1a1a" stroke-width="2.2" fill="none" />
<path d="M123.8,256 V262.6 M139.4,256 V262.6" stroke="#1a1a1a" stroke-width="1.2" fill="none" />
<path d="M111,239.2 L116,241.4 L118,260 M152.4,239.2 L147.4,241.4 L145.4,260" stroke="#1a1a1a" stroke-width="1" fill="none" />
<line x1="148.2" y1="241" x2="147.5" y2="259" stroke="#888" stroke-width="0.8" />
<path d="M121.5,263.7 Q122,268.3 124.5,268.3 H139 Q141.5,268.3 142,263.7" stroke="#1a1a1a" stroke-width="1.2" fill="none" />
<path d="M121,272 V284.3 H141.6 V272 Z" stroke="#1a1a1a" stroke-width="1.6" fill="none" />
<line x1="121" y1="273.6" x2="141.6" y2="273.6" stroke="#1a1a1a" stroke-width="1" />
<line x1="194.9" y1="57.4" x2="260.2" y2="57.4" stroke="#1a1a1a" stroke-width="1" />
<path d="M260.2,57.4 L250.7,55.27 L250.7,59.53 Z" fill="#111"/>
<text transform="translate(197.74,55.18) scale(1.019,1)" font-size="12.71" fill="#111" font-weight="normal">max.230</text>
<line x1="260.4" y1="52.9" x2="260.4" y2="92.9" stroke="#1a1a1a" stroke-width="1" />
<circle cx="290.3" cy="57.5" r="3.4" stroke="#1a1a1a" stroke-width="0" fill="#111" />
<line x1="290.3" y1="52.9" x2="290.3" y2="80.5" stroke="#1a1a1a" stroke-width="1" />
<line x1="285.8" y1="57.5" x2="294.8" y2="57.5" stroke="#1a1a1a" stroke-width="1" />
<line x1="305.5" y1="52.9" x2="305.5" y2="88.6" stroke="#1a1a1a" stroke-width="1" />
<line x1="305.5" y1="57.4" x2="347.9" y2="57.4" stroke="#1a1a1a" stroke-width="1" />
<path d="M305.5,57.4 L315,55.27 L315,59.53 Z" fill="#111"/>
<text transform="translate(314.73,54.68) scale(1.016,1)" font-size="12.57" fill="#111" font-weight="normal">10-70</text>
<path d="M281.6,277 V80.5 H290.4 V277 Z" stroke="#1a1a1a" stroke-width="1.7" fill="none" />
<path d="M281.9,277.5 V300.7 M289.8,277.5 V300.7" stroke="#1a1a1a" stroke-width="1.4" fill="none" />
<rect x="290.6" y="88.6" width="16.1" height="32.9" rx="0" stroke="#1a1a1a" stroke-width="1.4" fill="#fff"/>
<rect x="293.3" y="88.6" width="13.4" height="32.9" fill="#1e1e1e"/>
<line x1="297" y1="89.8" x2="297" y2="120.3" stroke="#666" stroke-width="0.6" />
<line x1="300.6" y1="89.8" x2="300.6" y2="120.3" stroke="#666" stroke-width="0.6" />
<line x1="302.4" y1="89.8" x2="302.4" y2="120.3" stroke="#666" stroke-width="0.6" />
<line x1="304.6" y1="89.8" x2="304.6" y2="120.3" stroke="#666" stroke-width="0.6" />
<line x1="291" y1="93.5" x2="292.8" y2="93.5" stroke="#333" stroke-width="1" />
<line x1="291" y1="98.8" x2="292.8" y2="98.8" stroke="#333" stroke-width="1" />
<line x1="291" y1="105.8" x2="292.8" y2="105.8" stroke="#333" stroke-width="1" />
<line x1="291" y1="112.7" x2="292.8" y2="112.7" stroke="#333" stroke-width="1" />
<line x1="291" y1="119.2" x2="292.8" y2="119.2" stroke="#333" stroke-width="1" />
<rect x="260.7" y="78.4" width="2.2" height="14.7" rx="0" stroke="#1a1a1a" stroke-width="0.6" fill="#111"/>
<path d="M262.9,78.6 H264.6 V80.4" stroke="#1a1a1a" stroke-width="1" fill="none" />
<rect x="262.9" y="80.6" width="18.6" height="2.7" rx="0" stroke="#1a1a1a" stroke-width="1" fill="#ccc"/>
<path d="M258.6,93.3 L252.1,89.3 L252.1,97.3 Z" stroke="#1a1a1a" stroke-width="1.1" fill="none" />
<path d="M251.9,92.3 L249.6,91.5 L247.2,91.3 L243.7,92.1 L240.9,93" stroke="#1a1a1a" stroke-width="1.1" fill="none" stroke-linejoin="round"/>
<path d="M251.9,93.9 L249.1,94.5 L246.2,94.8 L243.2,95.3 L241.2,95" stroke="#1a1a1a" stroke-width="1.1" fill="none" stroke-linejoin="round"/>
<line x1="237.9" y1="93.3" x2="241" y2="93.3" stroke="#1a1a1a" stroke-width="1" />
<line x1="258.6" y1="93.4" x2="275.3" y2="93.4" stroke="#1a1a1a" stroke-width="0.9" stroke-dasharray="5,1.5,1,1.5"/>
<path d="M281.6,86.9 H275.2 Q274.2,86.9 274.2,88 V96.6 Q274.2,98.7 271.5,98.8 H269.2 Q267.3,99 267.3,101.6 V180.5 Q267.5,185.5 269.5,188 Q271.6,189.8 272.4,192" stroke="#1a1a1a" stroke-width="1.6" fill="none" />
<line x1="267.3" y1="102.1" x2="281.6" y2="102.1" stroke="#1a1a1a" stroke-width="1.2" />
<line x1="267.3" y1="127.5" x2="281.6" y2="127.5" stroke="#1a1a1a" stroke-width="1.2" />
<rect x="269.6" y="105.8" width="8.5" height="12.1" rx="2" stroke="#1a1a1a" stroke-width="2" fill="none"/>
<circle cx="273.8" cy="111.8" r="3" stroke="#1a1a1a" stroke-width="0" fill="#111" />
<circle cx="271.5" cy="105.6" r="1" stroke="#1a1a1a" stroke-width="0" fill="#111" />
<circle cx="276.2" cy="105.6" r="1" stroke="#1a1a1a" stroke-width="0" fill="#111" />
<circle cx="271.5" cy="118.1" r="1" stroke="#1a1a1a" stroke-width="0" fill="#111" />
<circle cx="276.2" cy="118.1" r="1" stroke="#1a1a1a" stroke-width="0" fill="#111" />
<line x1="270.3" y1="129.3" x2="272.2" y2="178" stroke="#444" stroke-width="1.1" />
<line x1="273.8" y1="129.3" x2="275.4" y2="178.8" stroke="#777" stroke-width="1.1" />
<path d="M274.5,140.6 Q276.5,139.8 279.8,140.6" stroke="#444" stroke-width="1" fill="none" />
<line x1="276" y1="141" x2="276.2" y2="178.5" stroke="#444" stroke-width="1" />
<line x1="279.6" y1="141" x2="279.6" y2="178.5" stroke="#666" stroke-width="1.1" />
<path d="M268.2,182.3 Q269.5,179.2 273,178.9 H281.4" stroke="#1a1a1a" stroke-width="1.1" fill="none" />
<path d="M272.4,192 V214 Q272.8,223 281.2,224.6" stroke="#1a1a1a" stroke-width="1.4" fill="none" />
<line x1="272.4" y1="192.3" x2="281.2" y2="192.3" stroke="#1a1a1a" stroke-width="1.2" />
<line x1="272.4" y1="200.5" x2="281.2" y2="200.5" stroke="#1a1a1a" stroke-width="1.4" />
<line x1="272.4" y1="207.8" x2="281.2" y2="207.8" stroke="#1a1a1a" stroke-width="2.2" />
<line x1="272.4" y1="213.3" x2="281.2" y2="213.3" stroke="#555" stroke-width="0.9" />
<rect x="290.4" y="225.4" width="25.3" height="2.8" rx="0" stroke="#444" stroke-width="0.9" fill="#bbb"/>
<rect x="290.4" y="235.6" width="2.7" height="20.5" rx="1.3" stroke="#1a1a1a" stroke-width="1.1" fill="none"/>
<path d="M265.2,256 Q265.5,238 281.2,237.2" stroke="#1a1a1a" stroke-width="1.6" fill="none" />
<path d="M273.4,253 V247 Q276,245 281.2,245.3 M274.5,246 L281.2,252.5" stroke="#1a1a1a" stroke-width="1" fill="none" />
<line x1="265" y1="256.2" x2="281.2" y2="256.2" stroke="#1a1a1a" stroke-width="2.2" />
<path d="M265.2,256 V271.6 M281.2,256 V300.7" stroke="#1a1a1a" stroke-width="1.4" fill="none" />
<rect x="262.9" y="271.6" width="18.3" height="1.8" rx="0" stroke="#1a1a1a" stroke-width="1.3" fill="none"/>
<line x1="263.9" y1="284" x2="281.2" y2="284" stroke="#1a1a1a" stroke-width="2" />
<path d="M263.9,273.4 V284" stroke="#1a1a1a" stroke-width="1.1" fill="none" />
<line x1="263.4" y1="284" x2="263.4" y2="349.6" stroke="#1a1a1a" stroke-width="1" />
<line x1="265.4" y1="284" x2="265.4" y2="323.2" stroke="#1a1a1a" stroke-width="1" />
<line x1="290.4" y1="300.7" x2="290.4" y2="349.6" stroke="#1a1a1a" stroke-width="1" />
<line x1="246.5" y1="318.9" x2="265.4" y2="318.9" stroke="#444" stroke-width="1" />
<path d="M265.4,318.9 L255.9,316.77 L255.9,321.03 Z" fill="#111"/>
<line x1="290.4" y1="318.9" x2="358.2" y2="318.9" stroke="#444" stroke-width="1" />
<path d="M290.4,318.9 L299.9,316.77 L299.9,321.03 Z" fill="#111"/>
<line x1="244.9" y1="345.3" x2="263.4" y2="345.3" stroke="#1a1a1a" stroke-width="1" />
<path d="M263.4,345.3 L253.9,343.17 L253.9,347.43 Z" fill="#111"/>
<line x1="290.4" y1="345.3" x2="358.7" y2="345.3" stroke="#1a1a1a" stroke-width="1" />
<path d="M290.4,345.3 L299.9,343.17 L299.9,347.43 Z" fill="#111"/>
<text transform="translate(306.52,316.3) scale(1.055,1)" font-size="12.14" fill="#111">135/155</text>
<text transform="translate(317,327.7) scale(1.187,1)" font-size="8.14" fill="#111">(Ø90)</text>
<text transform="translate(307.13,342.9) scale(1.050,1)" font-size="12.14" fill="#111">145/165</text>
<text transform="translate(316.51,352.9) scale(1.105,1)" font-size="8.57" fill="#111">(Ø110)</text>
<line x1="290.6" y1="189.8" x2="305.9" y2="189.8" stroke="#444" stroke-width="1" />
<path d="M290.6,189.8 L300.1,187.67 L300.1,191.93 Z" fill="#111"/>
<line x1="363.1" y1="189.8" x2="379.3" y2="189.8" stroke="#444" stroke-width="1" />
<path d="M379.3,189.8 L369.8,187.67 L369.8,191.93 Z" fill="#111"/>
<line x1="379.5" y1="185" x2="379.5" y2="210.3" stroke="#1a1a1a" stroke-width="1" />
<text transform="translate(308.53,194.28) scale(1.053,1)" font-size="12.43" fill="#111" font-weight="normal">max.620</text>
<line x1="290.4" y1="209.4" x2="379.5" y2="209.4" stroke="#1a1a1a" stroke-width="1.1" stroke-dasharray="5.8,6.9" stroke-dashoffset="3.9"/>
<line x1="290.4" y1="215.5" x2="379.3" y2="215.5" stroke="#1a1a1a" stroke-width="1.1" stroke-dasharray="5.8,6.9" stroke-dashoffset="3.9"/>
<path d="M379.3,215.5 Q378,226 365.2,236.8 L340.5,263.8 Q336,269.4 330,269.4 H290.4" stroke="#1a1a1a" stroke-width="1.1" fill="none" stroke-dasharray="5.8,6.9" stroke-dashoffset="3.9"/>
<path d="M306.5,215.6 Q308,226 317,235 Q323,240.9 331.1,240.9 H353.5 Q371,240 375.8,225" stroke="#1a1a1a" stroke-width="1" fill="none" stroke-dasharray="5,3"/>
<path d="M351.1,241.5 L334.7,258.5 Q332.3,260 330,260 H290.4" stroke="#1a1a1a" stroke-width="1" fill="none" stroke-dasharray="5,3"/>
<line x1="297.5" y1="215.4" x2="297.5" y2="269.4" stroke="#1a1a1a" stroke-width="1" stroke-dasharray="5,3"/>
<line x1="328.4" y1="260" x2="328.4" y2="269.4" stroke="#1a1a1a" stroke-width="1" stroke-dasharray="3,2"/>
<line x1="334.7" y1="258.5" x2="340.5" y2="263.8" stroke="#1a1a1a" stroke-width="0.9" />
<line x1="297.7" y1="287.4" x2="377.5" y2="287.4" stroke="#1a1a1a" stroke-width="1.4" />
</svg>
</body></html>
